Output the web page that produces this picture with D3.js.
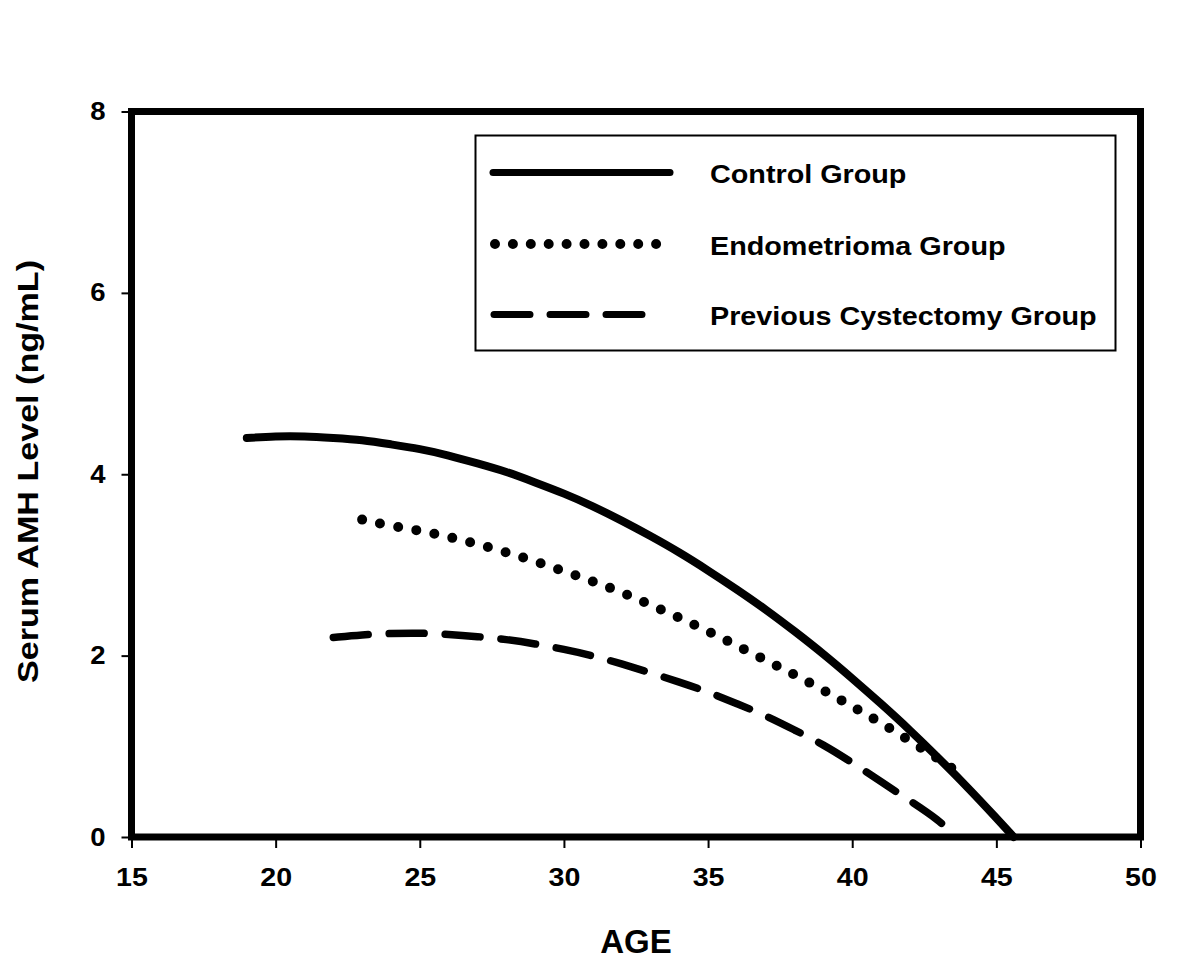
<!DOCTYPE html>
<html>
<head>
<meta charset="utf-8">
<script src="https://cdn.jsdelivr.net/npm/d3@7"></script>
<style>
  html, body { margin: 0; padding: 0; background: #fff; }
  svg { display: block; font-family: "Liberation Sans", Arial, sans-serif; font-weight: bold; }
</style>
</head>
<body>
<svg id="chart" width="1200" height="969"></svg>
<script>
// ---- data ----
const controlAges = [19, 20, 21, 22, 23, 24, 25, 26, 27, 28, 29, 30, 31, 32, 33, 34, 35, 36, 37, 38, 39, 40, 41, 42, 43, 44, 45, 45.6];
const controlAMH  = [4.40, 4.42, 4.42, 4.40, 4.38, 4.33, 4.28, 4.21, 4.12, 4.03, 3.91, 3.79, 3.65, 3.49, 3.32, 3.14, 2.94, 2.73, 2.51, 2.27, 2.02, 1.75, 1.47, 1.18, 0.87, 0.55, 0.21, 0.0];

const endoAges = [23, 24, 25, 26, 27, 28, 29, 30, 31, 32, 33, 34, 35, 36, 37, 38, 39, 40, 41, 42, 43, 43.5];
const endoAMH  = [3.50, 3.43, 3.38, 3.31, 3.23, 3.14, 3.04, 2.93, 2.82, 2.70, 2.56, 2.42, 2.27, 2.11, 1.95, 1.79, 1.62, 1.44, 1.26, 1.06, 0.86, 0.75];

const cystAges = [22, 23, 24, 25, 26, 27, 28, 29, 30, 31, 32, 33, 34, 35, 36, 37, 38, 39, 40, 41, 42, 43, 43.6];
const cystAMH  = [2.20, 2.23, 2.245, 2.25, 2.235, 2.21, 2.18, 2.13, 2.07, 2.00, 1.91, 1.81, 1.71, 1.60, 1.47, 1.34, 1.18, 1.02, 0.82, 0.61, 0.40, 0.19, 0.0];

const seriesNames = ["Control Group", "Endometrioma Group", "Previous Cystectomy Group"];
const xTicks = [15, 20, 25, 30, 35, 40, 45, 50];
const yTicks = [0, 2, 4, 6, 8];
const xTitle = "AGE";
const yTitle = "Serum AMH Level (ng/mL)";

// ---- styles ----
const styles = [
  { width: 8, dash: null },
  { width: 10, dash: "0,18.4" },
  { width: 7.5, dash: "35,21" }
];
const legendStyles = [
  { width: 7, dash: null },
  { width: 10, dash: "0,17.9" },
  { width: 7, dash: "36,20" }
];

const svg = d3.select("#chart");
const x = d3.scaleLinear().domain([15, 50]).range([131.5, 1140.5]);
const y = d3.scaleLinear().domain([0, 8]).range([837, 111.5]);

const series = [
  controlAges.map((a, i) => [a, controlAMH[i]]),
  endoAges.map((a, i) => [a, endoAMH[i]]),
  cystAges.map((a, i) => [a, cystAMH[i]])
];

function stretch(sel, k) {
  sel.each(function () {
    const w = this.getComputedTextLength();
    d3.select(this).attr("textLength", w * k).attr("lengthAdjust", "spacingAndGlyphs");
  });
}

// axes (ticks + labels)
const xAxis = svg.append("g")
  .attr("transform", `translate(0,${y(0)})`)
  .call(d3.axisBottom(x).tickValues(xTicks).tickSizeInner(11).tickSizeOuter(0).tickPadding(20).tickFormat(d3.format("d")));
xAxis.select(".domain").remove();
xAxis.selectAll(".tick line").attr("stroke", "#000").attr("stroke-width", 2);
xAxis.selectAll(".tick text").attr("font-size", 26).attr("font-weight", "bold").attr("fill", "#000")
  .attr("font-family", '"Liberation Sans", Arial, sans-serif');
stretch(xAxis.selectAll(".tick text"), 1.1);

const yAxis = svg.append("g")
  .attr("transform", `translate(${x(15)},0)`)
  .call(d3.axisLeft(y).tickValues(yTicks).tickSizeInner(10).tickSizeOuter(0).tickPadding(16).tickFormat(d3.format("d")));
yAxis.select(".domain").remove();
yAxis.selectAll(".tick line").attr("stroke", "#000").attr("stroke-width", 2);
yAxis.selectAll(".tick text").attr("font-size", 25).attr("font-weight", "bold").attr("fill", "#000")
  .attr("font-family", '"Liberation Sans", Arial, sans-serif');
stretch(yAxis.selectAll(".tick text"), 1.1);

// lines
const line = d3.line().x(d => x(d[0])).y(d => y(d[1])).curve(d3.curveBasis);
series.forEach((s, i) => {
  svg.append("path")
    .datum(s)
    .attr("d", line)
    .attr("fill", "none")
    .attr("stroke", "#000")
    .attr("stroke-width", styles[i].width)
    .attr("stroke-linecap", "round")
    .attr("stroke-linejoin", "round")
    .attr("stroke-dasharray", styles[i].dash);
});

// frame
svg.append("rect")
  .attr("x", x(15)).attr("y", y(8))
  .attr("width", x(50) - x(15)).attr("height", y(0) - y(8))
  .attr("fill", "none").attr("stroke", "#000").attr("stroke-width", 7);

// legend
const lg = svg.append("g");
lg.append("rect").attr("x", 475.5).attr("y", 135.5).attr("width", 640).attr("height", 215)
  .attr("fill", "#fff").attr("stroke", "#000").attr("stroke-width", 2);
const rowY = [172.5, 244, 314.5];
const lineX = [[493, 670], [495, 660], [494, 650]];
seriesNames.forEach((name, i) => {
  lg.append("line")
    .attr("x1", lineX[i][0]).attr("x2", lineX[i][1])
    .attr("y1", rowY[i]).attr("y2", rowY[i])
    .attr("stroke", "#000")
    .attr("stroke-width", legendStyles[i].width)
    .attr("stroke-linecap", "round")
    .attr("stroke-dasharray", legendStyles[i].dash);
  const t = lg.append("text")
    .attr("x", 710).attr("y", rowY[i] + 10.5)
    .attr("font-size", 25).attr("fill", "#000")
    .text(name);
  stretch(t, 1.15);
});

// titles
svg.append("text")
  .attr("x", 636).attr("y", 953)
  .attr("text-anchor", "middle")
  .attr("font-size", 33).attr("fill", "#000")
  .text(xTitle);

const yt = svg.append("text")
  .attr("transform", "translate(38,471.5) rotate(-90)")
  .attr("text-anchor", "middle")
  .attr("font-size", 30).attr("fill", "#000")
  .text(yTitle);
yt.attr("textLength", 423).attr("lengthAdjust", "spacingAndGlyphs");
</script>
</body>
</html>
